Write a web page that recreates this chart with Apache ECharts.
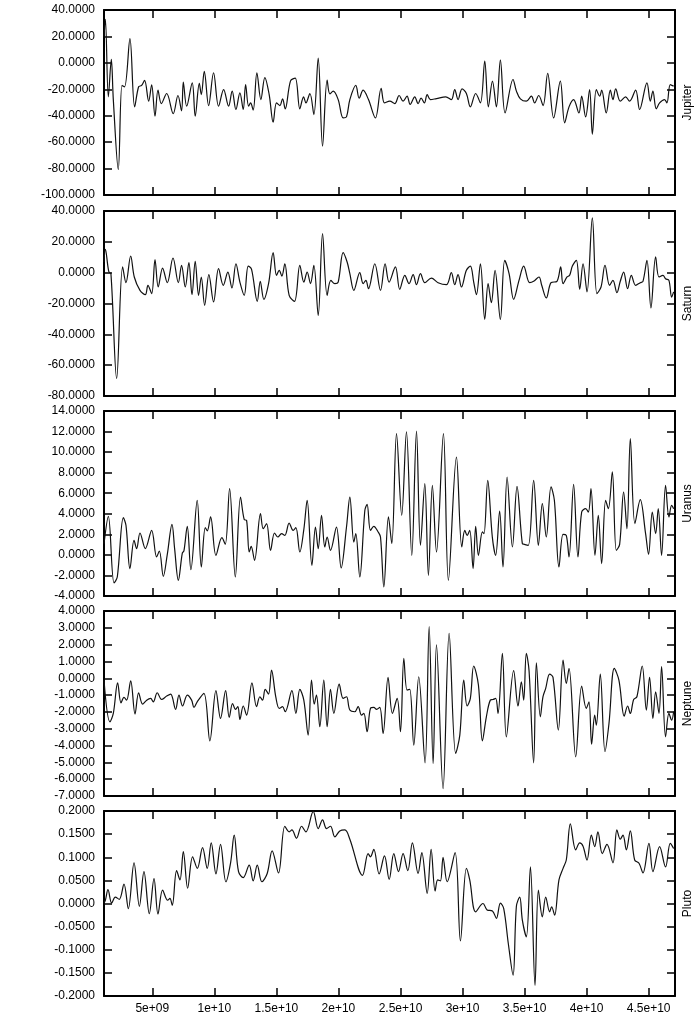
<!DOCTYPE html>
<html><head><meta charset="utf-8">
<script src="https://cdn.jsdelivr.net/npm/echarts@6/dist/echarts.min.js"></script>
<style>html,body{margin:0;padding:0;background:#fff}#c{width:700px;height:1021px}</style>
</head><body><div id="c"></div>
<script>
// x values are in units of 1e9
const xTickValues = [5,10,15,20,25,30,35,40,45];
const xTickLabels = ['5e+09','1e+10','1.5e+10','2e+10','2.5e+10','3e+10','3.5e+10','4e+10','4.5e+10'];
const panelNames = ['Jupiter','Saturn','Uranus','Neptune','Pluto'];
const yMins = [-100,-80,-4,-7,-0.2];
const yMaxs = [40,40,14,4,0.2];
const yIntervals = [20,20,2,1,0.05];
const xMin = 1.11, xMax = 47.12;

const jupiter = [[1.11,20],[1.22,32.9],[1.46,-25.7],[1.70,2.6],[1.86,-27.8],[2.26,-80.8],[2.56,-17.1],[2.77,-18.1],[3.20,18.3],[3.58,-33.3],[3.90,-18.1],[4.14,-17.1],[4.38,-13.3],[4.71,-29.0],[4.95,-16.6],[5.22,-40.4],[5.46,-20.7],[5.73,-30.8],[6.16,-23.2],[6.69,-38.4],[7.07,-24.7],[7.36,-36.3],[7.50,-14.6],[7.77,-32.8],[8.22,-15.1],[8.46,-40.4],[8.79,-15.6],[8.95,-24.0],[9.19,-6.5],[9.54,-32.3],[9.94,-7.5],[10.34,-32.8],[10.75,-20.2],[11.15,-32.8],[11.44,-21.4],[11.74,-35.3],[12.06,-22.7],[12.33,-35.3],[12.52,-16.4],[12.76,-32.8],[12.92,-30.3],[13.13,-35.8],[13.43,-7.5],[13.75,-27.8],[14.07,-11.1],[14.42,-24.0],[14.74,-44.9],[15.01,-30.3],[15.28,-32.3],[15.50,-27.2],[15.71,-34.8],[16.14,-13.6],[16.52,-11.6],[16.89,-34.8],[17.19,-25.7],[17.38,-30.3],[17.70,-23.2],[18.02,-39.1],[18.37,3.6],[18.72,-63.1],[19.09,-13.1],[19.31,-23.5],[19.58,-21.4],[19.98,-27.8],[20.38,-41.7],[20.65,-40.9],[20.92,-27.8],[21.40,-17.1],[21.67,-26.7],[21.99,-20.7],[22.42,-27.8],[22.98,-41.7],[23.44,-19.2],[23.71,-30.3],[24.14,-29.0],[24.54,-30.8],[24.89,-24.7],[25.21,-29.0],[25.53,-25.2],[25.78,-31.5],[26.15,-25.7],[26.42,-30.8],[26.66,-26.7],[26.93,-30.3],[27.15,-24.0],[27.41,-27.8],[27.90,-27.0],[28.65,-25.7],[29.10,-27.8],[29.37,-20.2],[29.64,-27.8],[29.96,-19.7],[30.31,-23.2],[30.63,-33.3],[31.06,-23.2],[31.44,-30.3],[31.79,1.3],[32.08,-33.3],[32.41,-13.8],[32.73,-33.3],[33.05,2.1],[33.43,-37.9],[34.07,-12.6],[34.34,-21.4],[34.66,-27.2],[35.14,-29.0],[35.55,-25.2],[35.81,-30.3],[36.14,-24.7],[36.49,-32.3],[36.86,-8.0],[37.34,-41.7],[37.88,-13.8],[38.23,-45.4],[38.58,-33.3],[38.95,-27.8],[39.38,-37.9],[39.60,-25.2],[39.92,-40.9],[40.24,-20.2],[40.46,-54.0],[40.78,-20.2],[41.05,-25.2],[41.21,-20.7],[41.58,-37.9],[41.91,-20.7],[42.12,-27.8],[42.34,-19.7],[42.71,-29.0],[43.14,-25.7],[43.46,-29.0],[43.95,-20.7],[44.27,-35.3],[44.86,-15.1],[45.13,-29.0],[45.34,-21.4],[45.61,-34.8],[45.88,-30.3],[46.28,-27.8],[46.47,-30.3],[46.74,-16.4],[47.01,-17.6]];

const saturn = [[1.11,6.9],[1.22,15.1],[1.49,0.9],[1.67,-0.9],[2.13,-68.7],[2.61,3.7],[2.88,-6.5],[3.26,10.8],[3.55,-2.8],[4.01,-11.5],[4.44,-14.3],[4.65,-8.2],[4.95,-13.6],[5.22,8.4],[5.48,-9.3],[5.83,3.0],[6.21,-6.5],[6.67,9.5],[7.10,-6.5],[7.36,4.8],[7.66,-9.3],[7.95,6.5],[8.20,-14.3],[8.46,7.4],[8.73,-14.7],[8.95,-2.8],[9.22,-21.2],[9.56,-1.3],[9.94,-19.0],[10.34,2.6],[10.72,-8.2],[11.09,0.4],[11.42,-9.9],[11.74,5.8],[12.06,-6.1],[12.41,-14.7],[12.73,4.3],[13.00,2.2],[13.46,-18.6],[13.70,-5.6],[13.99,-17.3],[14.37,-7.1],[14.74,13.0],[15.01,-1.7],[15.23,1.5],[15.44,-2.2],[15.68,5.8],[16.03,-14.7],[16.46,-18.6],[16.89,4.8],[17.21,-6.1],[17.48,0.4],[17.75,-7.1],[18.02,4.8],[18.37,-27.7],[18.72,25.3],[19.09,-14.7],[19.39,-5.0],[19.71,-7.1],[19.98,-6.1],[20.38,13.0],[20.70,6.9],[20.92,-0.6],[21.24,-11.5],[21.72,0.0],[21.99,-7.1],[22.21,-5.0],[22.42,-10.4],[22.93,5.8],[23.39,-11.5],[23.76,5.8],[24.08,-6.1],[24.59,3.7],[24.94,-10.8],[25.35,-1.7],[25.69,-7.1],[26.02,-1.3],[26.29,-7.8],[26.61,-0.6],[26.96,-6.5],[27.49,-3.5],[28.03,-6.5],[28.70,-7.8],[29.10,0.0],[29.37,-7.8],[29.64,-1.3],[29.91,-9.3],[30.31,1.5],[30.63,4.3],[30.90,-6.1],[31.12,-14.3],[31.44,5.8],[31.79,-30.3],[32.06,-7.1],[32.32,-19.5],[32.62,1.5],[33.05,-30.3],[33.40,8.0],[33.75,-0.6],[34.12,-17.3],[34.55,-5.0],[34.93,4.3],[35.41,-6.5],[35.73,-5.6],[36.16,-2.8],[36.38,-8.2],[36.75,-16.4],[37.13,-6.5],[37.61,-5.6],[37.91,3.7],[38.10,-7.1],[38.42,-2.8],[38.63,-1.7],[38.85,4.3],[39.17,8.0],[39.44,-10.8],[39.71,5.8],[40.03,-12.5],[40.46,35.5],[40.83,-13.6],[41.16,-9.3],[41.48,4.8],[41.85,-8.2],[42.12,-5.0],[42.44,-13.0],[42.71,-5.6],[42.98,0.4],[43.30,-10.4],[43.60,-1.7],[43.95,-8.2],[44.32,-6.5],[44.54,-5.6],[44.86,8.0],[45.18,-22.9],[45.56,10.2],[45.83,-2.8],[46.15,-1.7],[46.36,-3.9],[46.63,-5.0],[46.85,-15.8],[47.01,-12.5]];

const uranus = [[1.11,1.09],[1.46,3.75],[1.92,-2.73],[2.18,-2.15],[2.67,3.62],[2.88,2.88],[3.20,-1.34],[3.53,1.42],[3.74,0.61],[4.01,2.13],[4.44,0.61],[4.95,2.39],[5.35,-0.20],[5.57,0.38],[5.89,-2.09],[6.21,0.05],[6.59,2.97],[6.80,0.61],[7.10,-2.47],[7.42,0.18],[7.55,0.38],[7.82,2.78],[8.11,-1.44],[8.62,5.31],[8.95,-1.18],[9.27,2.65],[9.43,2.33],[9.70,3.69],[10.13,-0.04],[10.61,1.68],[10.88,1.03],[11.23,6.44],[11.69,-2.15],[12.11,5.63],[12.41,3.43],[12.60,3.36],[12.81,0.28],[12.97,0.83],[13.24,-0.53],[13.72,4.01],[13.94,2.55],[14.21,3.04],[14.53,0.44],[14.85,2.13],[15.12,1.74],[15.42,2.07],[15.68,1.90],[16.03,3.10],[16.35,2.39],[16.57,2.65],[16.89,0.28],[17.21,2.45],[17.48,5.31],[17.86,-1.02],[18.15,2.71],[18.37,0.61],[18.64,3.85],[18.90,0.77],[19.09,1.74],[19.36,0.44],[19.84,2.71],[20.22,-1.27],[20.65,2.71],[20.92,5.63],[21.24,1.25],[21.40,2.07],[21.72,-2.15],[22.13,4.34],[22.31,4.92],[22.58,2.39],[22.85,2.78],[23.20,2.23],[23.39,1.74],[23.66,-3.12],[24.03,3.69],[24.30,1.09],[24.68,11.79],[25.10,3.85],[25.48,11.96],[25.91,-0.04],[26.29,12.05],[26.61,0.93],[26.96,6.93],[27.25,-1.99],[27.57,6.77],[27.90,0.28],[28.46,11.79],[28.86,-2.47],[29.51,9.52],[29.94,0.77],[30.18,2.39],[30.37,1.90],[30.58,2.39],[30.85,-1.34],[31.06,2.78],[31.28,-0.04],[31.60,2.23],[31.73,2.07],[32.03,7.25],[32.40,1.74],[32.67,-0.04],[32.99,4.27],[33.26,-1.18],[33.59,7.58],[34.02,0.77],[34.39,6.67],[34.82,1.09],[34.98,1.03],[35.30,0.93],[35.73,7.25],[36.11,0.93],[36.43,4.98],[36.75,1.74],[37.13,6.61],[37.40,5.31],[37.77,-1.18],[38.10,2.0],[38.36,1.90],[38.58,-0.20],[38.95,6.87],[39.30,-0.20],[39.60,4.17],[39.92,4.50],[40.14,4.17],[40.35,6.44],[40.67,-0.04],[40.94,3.85],[41.21,-0.85],[41.53,5.31],[41.75,4.50],[42.07,8.07],[42.39,0.44],[42.66,1.03],[42.98,6.12],[43.25,2.55],[43.52,11.31],[43.89,3.04],[44.32,5.37],[44.75,2.07],[44.99,0.05],[45.29,4.17],[45.56,2.07],[45.77,4.50],[46.04,-0.04],[46.36,6.77],[46.63,3.69],[46.85,4.82],[47.01,4.50]];

const neptune = [[1.11,-0.11],[1.59,-2.59],[1.86,-2.09],[2.21,-0.27],[2.48,-1.46],[2.72,-1.14],[2.93,-1.30],[3.26,-0.15],[3.61,-2.13],[3.90,-0.86],[4.22,-1.54],[4.55,-1.30],[4.87,-1.20],[5.08,-1.40],[5.40,-0.86],[5.75,-1.26],[6.16,-1.06],[6.48,-0.94],[6.88,-1.85],[7.15,-1.0],[7.44,-1.65],[7.82,-1.0],[8.17,-1.30],[8.36,-1.73],[8.62,-1.40],[9.16,-0.90],[9.64,-3.72],[10.13,-0.74],[10.50,-2.39],[10.91,-0.74],[11.20,-2.33],[11.47,-1.50],[11.71,-1.85],[11.90,-1.69],[12.06,-2.45],[12.33,-1.65],[12.60,-2.19],[13.03,-0.27],[13.40,-1.69],[13.67,-1.10],[13.89,-1.30],[14.10,-0.66],[14.37,-0.94],[14.61,0.49],[14.96,-1.14],[15.23,-1.79],[15.50,-1.69],[15.71,-1.99],[16.25,-0.74],[16.57,-2.09],[16.89,-0.66],[17.21,-1.30],[17.56,-3.38],[17.83,-0.11],[18.05,-1.54],[18.23,-1.0],[18.50,-2.88],[18.82,-0.11],[19.09,-2.88],[19.36,-0.66],[19.63,-2.09],[20.06,-0.35],[20.38,-1.20],[20.65,-1.10],[20.92,-1.89],[21.32,-1.99],[21.59,-1.69],[21.86,-2.19],[22.05,-2.09],[22.31,-3.18],[22.58,-1.79],[22.85,-1.73],[23.07,-1.85],[23.33,-1.73],[23.60,-3.28],[24.00,0.05],[24.35,-2.09],[24.73,-1.20],[25.00,-3.18],[25.27,1.18],[25.53,-0.70],[25.75,-0.66],[26.07,-3.98],[26.47,0.09],[26.98,-5.03],[27.31,3.07],[27.63,-5.07],[27.90,1.98],[28.43,-6.56],[28.92,2.67],[29.45,-4.47],[29.78,-3.38],[30.10,-0.11],[30.37,-1.65],[30.63,-1.20],[30.90,0.73],[31.28,-0.40],[31.60,-3.72],[31.92,-2.29],[32.24,-1.30],[32.46,-1.26],[32.67,-1.20],[32.86,-2.09],[33.21,1.48],[33.53,-3.48],[34.12,0.45],[34.47,-1.65],[34.74,-0.21],[34.93,-1.30],[35.14,1.48],[35.36,0.45],[35.73,-5.03],[35.95,0.92],[36.27,-2.29],[36.48,-1.10],[36.70,-0.60],[37.02,0.25],[37.29,0.05],[37.72,-3.08],[38.10,1.08],[38.36,-0.31],[38.58,0.59],[39.12,-4.67],[39.60,-0.46],[39.97,-1.79],[40.19,-1.40],[40.40,-3.92],[40.65,-2.19],[40.78,-2.79],[41.10,0.25],[41.48,-4.37],[41.80,-2.69],[42.23,0.59],[42.60,-0.11],[43.03,-2.25],[43.30,-1.65],[43.52,-2.09],[43.79,-1.26],[44.05,-1.10],[44.48,0.73],[44.81,-1.89],[45.07,0.05],[45.34,-2.39],[45.56,-0.80],[45.83,-2.09],[46.04,0.69],[46.36,-3.48],[46.63,-2.09],[46.85,-2.49],[47.01,-1.99]];

const pluto = [[1.11,0.0015],[1.22,0.007],[1.43,0.030],[1.73,0.001],[2.02,0.014],[2.34,0.009],[2.72,0.042],[3.07,-0.011],[3.53,0.088],[3.96,-0.006],[4.33,0.069],[4.76,-0.022],[5.14,0.054],[5.46,-0.023],[5.83,0.029],[6.24,0.007],[6.42,0.011],[6.61,-0.004],[6.96,0.071],[7.23,0.051],[7.50,0.112],[7.85,0.033],[8.25,0.101],[8.63,0.076],[9.05,0.121],[9.43,0.076],[9.75,0.131],[10.13,0.064],[10.50,0.128],[10.93,0.047],[11.31,0.088],[11.60,0.148],[11.95,0.069],[12.33,0.056],[12.81,0.083],[13.13,0.049],[13.46,0.083],[13.83,0.047],[14.26,0.065],[14.66,0.114],[15.17,0.066],[15.68,0.167],[16.03,0.155],[16.25,0.159],[16.62,0.141],[17.03,0.167],[17.38,0.155],[17.97,0.199],[18.37,0.162],[18.72,0.181],[19.04,0.162],[19.36,0.167],[19.71,0.144],[20.11,0.157],[20.52,0.159],[20.92,0.139],[21.94,0.061],[22.39,0.108],[22.58,0.101],[22.85,0.117],[23.28,0.064],[23.71,0.103],[24.09,0.052],[24.46,0.108],[24.84,0.069],[25.21,0.108],[25.59,0.071],[25.96,0.131],[26.42,0.065],[26.72,0.110],[27.15,0.022],[27.47,0.117],[27.79,0.027],[28.00,0.051],[28.22,0.049],[28.43,0.100],[28.76,0.047],[29.40,0.110],[29.83,-0.081],[30.31,0.076],[30.58,0.051],[31.06,-0.018],[31.65,0.0],[31.98,-0.014],[32.41,-0.016],[32.73,-0.032],[33.05,0.001],[33.32,-0.011],[33.69,-0.087],[34.07,-0.155],[34.34,-0.006],[34.61,0.014],[34.82,-0.036],[35.14,-0.072],[35.47,0.079],[35.84,-0.177],[36.11,0.029],[36.43,-0.029],[36.70,0.014],[37.02,-0.018],[37.18,-0.007],[37.42,-0.025],[37.77,0.051],[38.10,0.076],[38.36,0.094],[38.69,0.172],[39.12,0.116],[39.44,0.131],[39.71,0.124],[40.03,0.094],[40.38,0.148],[40.65,0.123],[40.91,0.155],[41.26,0.108],[41.64,0.128],[42.12,0.088],[42.44,0.159],[42.71,0.139],[42.93,0.148],[43.20,0.116],[43.52,0.157],[43.87,0.094],[44.22,0.087],[44.54,0.066],[45.02,0.130],[45.34,0.069],[45.88,0.123],[46.36,0.079],[46.74,0.130],[47.01,0.119]];

const seriesData = [jupiter, saturn, uranus, neptune, pluto];

const FONT = "'Liberation Sans', Arial, sans-serif";
const tops = [10, 211, 411, 611, 811];
const H = 185;
const lineAxis = {show: true, onZero: false, lineStyle: {color: '#000', width: 2}};
const tickStyle = {color: '#000', width: 1.5};

const grid = [], xAxis = [], yAxis = [], series = [];
for (let i = 0; i < 5; i++) {
  grid.push({left: 104, right: 25, top: tops[i], height: H, containLabel: false, outerBoundsMode: 'none'});
  const xBase = {
    gridIndex: i, type: 'value', min: xMin, max: xMax,
    axisLine: lineAxis, splitLine: {show: false},
    axisTick: {show: true, inside: true, length: 8, customValues: xTickValues, lineStyle: tickStyle}
  };
  xAxis.push(Object.assign({}, xBase, {
    position: 'bottom',
    axisLabel: {show: i === 4, customValues: xTickValues, color: '#000', fontSize: 12, fontFamily: FONT, margin: 7,
      formatter: v => { const k = xTickValues.findIndex(t => Math.abs(t - v) < 1e-9); return k >= 0 ? xTickLabels[k] : ''; }}
  }));
  xAxis.push(Object.assign({}, xBase, {position: 'top', axisLabel: {show: false}}));
  const yBase = {
    gridIndex: i, type: 'value', min: yMins[i], max: yMaxs[i], interval: yIntervals[i],
    axisLine: lineAxis, splitLine: {show: false},
    axisTick: {show: true, inside: true, length: 8, lineStyle: tickStyle}
  };
  yAxis.push(Object.assign({}, yBase, {
    position: 'left',
    axisLabel: {show: true, color: '#000', fontSize: 12, fontFamily: FONT, margin: 9, formatter: v => v.toFixed(4)}
  }));
  yAxis.push(Object.assign({}, yBase, {
    position: 'right', axisLabel: {show: false},
    name: panelNames[i], nameLocation: 'middle', nameGap: 7,
    nameTextStyle: {color: '#000', fontSize: 12, fontFamily: FONT}
  }));
  series.push({
    type: 'line', xAxisIndex: 2 * i, yAxisIndex: 2 * i, data: seriesData[i],
    showSymbol: false, smooth: 0.35, clip: true,
    lineStyle: {color: '#111', width: 1.2}
  });
}

const chart = echarts.init(document.getElementById('c'), null, {renderer: 'canvas'});
chart.setOption({animation: false, backgroundColor: '#fff', grid, xAxis, yAxis, series});
</script>
</body></html>
